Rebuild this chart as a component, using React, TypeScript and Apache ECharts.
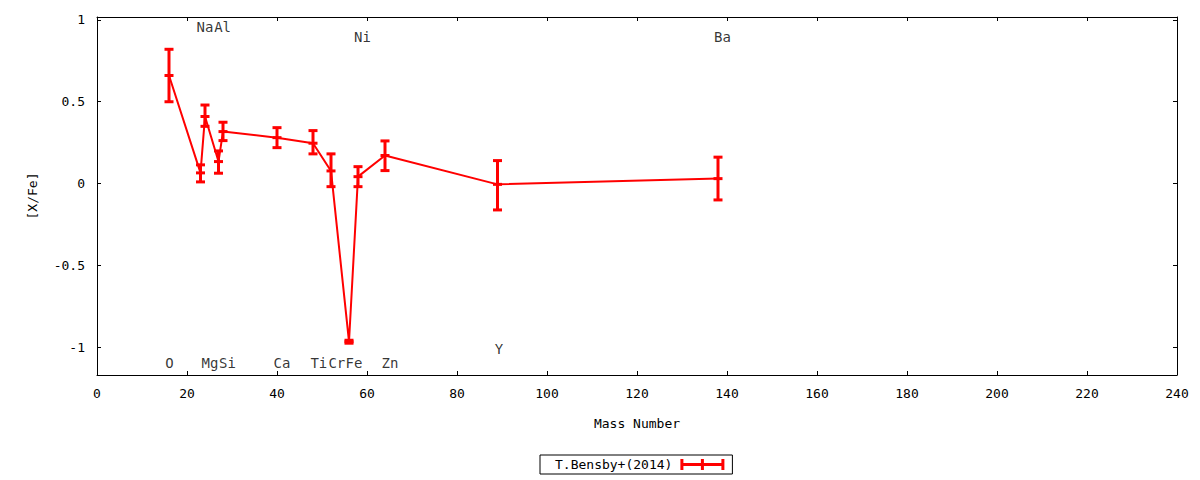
import React, { useEffect, useRef } from 'react';
import * as echarts from 'echarts';

// abundances per element
const elements = ['O', 'Na', 'Mg', 'Al', 'Si', 'Ca', 'Ti', 'Cr', 'Fe', 'Ni', 'Zn', 'Y', 'Ba'];
const massNumbers = [16, 23, 24, 27, 28, 40, 48, 52, 56, 58, 64, 89, 138];
const xFe = [0.66, 0.066, 0.41, 0.135, 0.318, 0.281, 0.247, 0.078, -0.964, 0.043, 0.172, -0.004, 0.031];
const xFeLow = [0.5, 0.011, 0.35, 0.064, 0.263, 0.22, 0.182, -0.018, -0.973, -0.018, 0.08, -0.16, -0.099];
const xFeHigh = [0.82, 0.115, 0.48, 0.2, 0.375, 0.342, 0.324, 0.182, -0.955, 0.104, 0.261, 0.141, 0.162];

// element name labels
const labelNames = ['O', 'Na', 'Mg', 'Al', 'Si', 'Ca', 'Ti', 'Cr', 'Fe', 'Ni', 'Zn', 'Y', 'Ba'];
const labelX = [16.1, 24, 25.1, 27.9, 29, 41.1, 49.3, 53.3, 57.1, 59, 65.1, 89.3, 139];
const labelY = [-1.096, 0.955, -1.096, 0.955, -1.096, -1.096, -1.096, -1.096, -1.096, 0.894, -1.096, -1.01, 0.894];

const yTicks = [-1, -0.5, 0, 0.5, 1];
const seriesName = 'T.Bensby+(2014)';

const FONT = 'DejaVu Sans Mono';
const RED = '#ff0000';

const App: React.FC = () => {
  const chartRef = useRef<HTMLDivElement>(null);

  useEffect(() => {
    if (!chartRef.current) return;
    const chart = echarts.init(chartRef.current, undefined, { renderer: 'svg' });

    const axisCommon = {
      type: 'value',
      axisLine: { show: true, onZero: false, lineStyle: { color: '#000', width: 1 } },
      axisTick: { show: true, inside: true, length: 4, lineStyle: { color: '#000' } },
      splitLine: { show: false },
    };

    const option = {
      animation: false,
      textStyle: { fontFamily: FONT },
      grid: { left: 97, right: 23, top: 17, bottom: 105 },
      legend: {
        data: [seriesName],
        left: 540,
        top: 455,
        align: 'right',
        borderColor: '#000',
        borderWidth: 1,
        padding: [3, 8, 3, 15],
        itemWidth: 44,
        itemHeight: 11,
        icon: 'path://M0,0h3v11h-3z M41,0h3v11h-3z M20.5,0h3v11h-3z M0,4h44v3h-44z',
        textStyle: { fontFamily: FONT, fontSize: 13, color: '#000', padding: [0, 3, 0, 0] },
        selectedMode: false,
      },
      xAxis: [
        {
          ...axisCommon,
          position: 'bottom',
          min: 0,
          max: 240,
          interval: 20,
          name: 'Mass Number',
          nameLocation: 'middle',
          nameGap: 42,
          nameTextStyle: { fontFamily: FONT, fontSize: 13, color: '#000' },
          axisLabel: { fontFamily: FONT, fontSize: 13, color: '#000', margin: 12 },
        },
        {
          ...axisCommon,
          position: 'top',
          min: 0,
          max: 240,
          interval: 20,
          axisLabel: { show: false },
        },
      ],
      yAxis: [
        {
          ...axisCommon,
          position: 'left',
          min: -1.167,
          max: 1.017,
          name: '[X/Fe]',
          nameLocation: 'middle',
          nameGap: 58,
          nameTextStyle: { fontFamily: FONT, fontSize: 13, color: '#000' },
          axisTick: { ...axisCommon.axisTick, customValues: yTicks },
          axisLabel: { fontFamily: FONT, fontSize: 13, color: '#000', margin: 12, customValues: yTicks },
        },
        {
          ...axisCommon,
          position: 'right',
          min: -1.167,
          max: 1.017,
          axisTick: { ...axisCommon.axisTick, customValues: yTicks },
          axisLabel: { show: false, customValues: yTicks },
        },
      ],
      series: [
        {
          name: 'line',
          type: 'line',
          data: massNumbers.map((m, i) => [m, xFe[i]]),
          showSymbol: false,
          lineStyle: { color: RED, width: 2 },
          silent: true,
          z: 2,
        },
        {
          name: seriesName,
          type: 'custom',
          itemStyle: { color: RED },
          data: massNumbers.map((m, i) => [m, xFe[i], xFeLow[i], xFeHigh[i]]),
          renderItem: (params: any, api: any) => {
            const x = api.value(0);
            const mid = api.coord([x, api.value(1)]);
            const lo = api.coord([x, api.value(2)]);
            const hi = api.coord([x, api.value(3)]);
            const style = { fill: RED };
            const cap = (p: number[]) => ({
              type: 'rect',
              shape: { x: p[0] - 4.5, y: p[1] - 1.5, width: 9, height: 3 },
              style,
            });
            return {
              type: 'group',
              children: [
                {
                  type: 'rect',
                  shape: { x: hi[0] - 1.5, y: hi[1], width: 3, height: lo[1] - hi[1] },
                  style,
                },
                cap(hi),
                cap(mid),
                cap(lo),
              ],
            };
          },
          z: 3,
        },
        {
          name: 'labels',
          type: 'scatter',
          symbolSize: 0,
          silent: true,
          data: labelNames.map((n, i) => ({ name: n, value: [labelX[i], labelY[i]] })),
          label: {
            show: true,
            position: 'inside',
            formatter: (p: any) => p.name,
            fontFamily: FONT,
            fontSize: 14,
            color: '#000',
          },
          z: 4,
        },
      ],
    };

    chart.setOption(option as any);

    return () => {
      chart.dispose();
    };
  }, []);

  return (
    <div
      ref={chartRef}
      style={{ position: 'fixed', left: 0, top: 0, width: '1200px', height: '480px', background: '#fff' }}
    />
  );
};

export default App;
